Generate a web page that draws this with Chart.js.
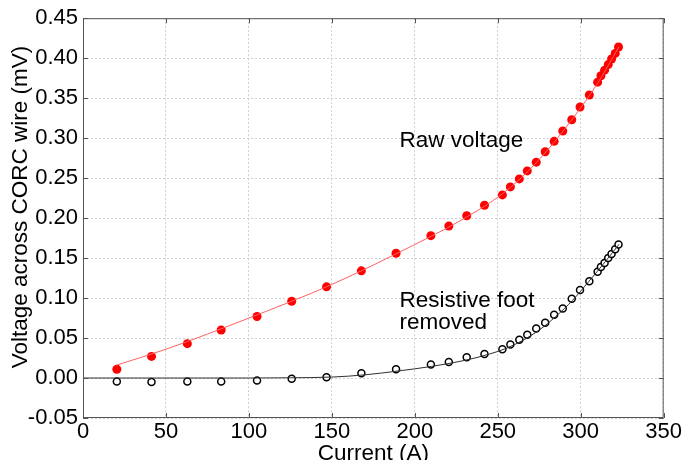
<!DOCTYPE html>
<html>
<head>
<meta charset="utf-8">
<script src="https://cdn.jsdelivr.net/npm/chart.js@4"></script>
<style>
  html,body{margin:0;padding:0;background:#fff;}
  #wrap{width:683px;height:460px;position:relative;}
</style>
</head>
<body>
<div id="wrap"><canvas id="c"></canvas></div>
<script>
/* ===== 資料 ===== */
const current = [20.4,41.3,62.9,83.3,104.9,125.8,146.8,167.8,188.7,209.7,220.5,231.3,242,252.8,257.6,263,267.8,273.2,278.6,284,289.2,294.6,299.6,305.2,310.2,312.2,314.4,316.6,318.6,320.8,322.8];
const rawV = [0.011,0.027,0.043,0.060,0.077,0.096,0.114,0.134,0.156,0.178,0.190,0.203,0.216,0.229,0.239,0.249,0.259,0.270,0.283,0.296,0.309,0.323,0.339,0.354,0.370,0.378,0.385,0.392,0.399,0.406,0.414];
const footV = [-0.0045,-0.005,-0.0045,-0.0045,-0.003,-0.001,0.001,0.006,0.011,0.017,0.020,0.026,0.030,0.036,0.042,0.048,0.054,0.062,0.069,0.079,0.087,0.099,0.110,0.121,0.133,0.139,0.144,0.150,0.155,0.161,0.167];

// fit curves
const rawFitI = [20,50,100,150,200,225,250,265,280,295,310,323];
const rawFitV = [0.016,0.036,0.075,0.117,0.167,0.194,0.226,0.252,0.285,0.324,0.368,0.414];
const footFitI = [0,50,100,125,150,170,190,210,230,245,255,265,275,285,295,305,315,323];
const footFitV = [0,0,0,0.0003,0.0012,0.004,0.0088,0.0145,0.022,0.030,0.037,0.047,0.060,0.077,0.097,0.121,0.146,0.167];

const xTicks = [0,50,100,150,200,250,300,350];
const yTicks = [-0.05,0,0.05,0.10,0.15,0.20,0.25,0.30,0.35,0.40,0.45];

const xTitle = 'Current (A)';
const yTitle = 'Voltage across CORC wire (mV)';
const notes = [
  {text:'Raw voltage', x:190.8, y:0.2886},
  {text:'Resistive foot', x:190.8, y:0.0883},
  {text:'removed', x:190.8, y:0.0617}
];

const FONT = '"Liberation Sans", Arial, sans-serif';
const pts = (xs,ys)=>xs.map((x,i)=>({x, y:ys[i]}));

/* ===== 外框、內側刻度、標題、註解 ===== */
const framePlugin = {
  id:'frame',
  afterDraw(chart){
    const {ctx, chartArea:a, scales:{x,y}} = chart;
    ctx.save();
    ctx.strokeStyle='#555'; ctx.lineWidth=1;
    ctx.strokeRect(a.left+0.5, a.top+0.5, a.right-a.left-1, a.bottom-a.top-1);
    ctx.beginPath();
    xTicks.forEach(v=>{
      const px=Math.round(x.getPixelForValue(v))+0.5;
      ctx.moveTo(px,a.bottom); ctx.lineTo(px,a.bottom-5);
      ctx.moveTo(px,a.top); ctx.lineTo(px,a.top+5);
    });
    yTicks.forEach(v=>{
      const py=Math.round(y.getPixelForValue(v))+0.5;
      ctx.moveTo(a.left,py); ctx.lineTo(a.left+5,py);
      ctx.moveTo(a.right,py); ctx.lineTo(a.right-5,py);
    });
    ctx.stroke();
    ctx.fillStyle='#000'; ctx.font='22.5px '+FONT; ctx.textBaseline='alphabetic'; ctx.textAlign='left';
    notes.forEach(n=>ctx.fillText(n.text, x.getPixelForValue(n.x), y.getPixelForValue(n.y)));
    // axis titles
    ctx.textAlign='center';
    ctx.fillText(xTitle, (a.left+a.right)/2, 460);
    ctx.translate(27, 207); ctx.rotate(-Math.PI/2);
    ctx.fillText(yTitle, 0, 0);
    ctx.restore();
  }
};

new Chart(document.getElementById('c'),{
  type:'scatter',
  data:{datasets:[
    {data:pts(rawFitI,rawFitV), showLine:true, borderColor:'#ff6060', borderWidth:1, pointRadius:0, cubicInterpolationMode:'monotone'},
    {data:pts(footFitI,footFitV), showLine:true, borderColor:'#303030', borderWidth:1, pointRadius:0, cubicInterpolationMode:'monotone'},
    {data:pts(current,rawV), pointRadius:4.5, pointBackgroundColor:'#ff0000', pointBorderColor:'#ff0000', pointBorderWidth:0},
    {data:pts(current,footV), pointRadius:3.5, pointBackgroundColor:'#fff', pointBorderColor:'#000', pointBorderWidth:1.5}
  ]},
  options:{
    responsive:true, maintainAspectRatio:false, animation:false,
    layout:{padding:{left:0,right:16,top:10,bottom:0}},
    plugins:{legend:{display:false}, tooltip:{enabled:false}},
    scales:{
      x:{type:'linear', min:0, max:350,
         afterFit:s=>{s.height=42;},
         afterBuildTicks:s=>{s.ticks=xTicks.map(v=>({value:v}));},
         grid:{color:'#cfcfcf', drawTicks:false},
         border:{display:false, dash:[2,2]},
         ticks:{color:'#000', padding:1, font:{family:FONT,size:22}}},
      y:{type:'linear', min:-0.05, max:0.45,
         afterFit:s=>{s.width=83;},
         afterBuildTicks:s=>{s.ticks=yTicks.map(v=>({value:v}));},
         grid:{color:'#cfcfcf', drawTicks:false},
         border:{display:false, dash:[2,2]},
         ticks:{color:'#000', padding:5, font:{family:FONT,size:22}, callback:v=>v.toFixed(2)}}
    }
  },
  plugins:[framePlugin]
});
</script>
</body>
</html>
